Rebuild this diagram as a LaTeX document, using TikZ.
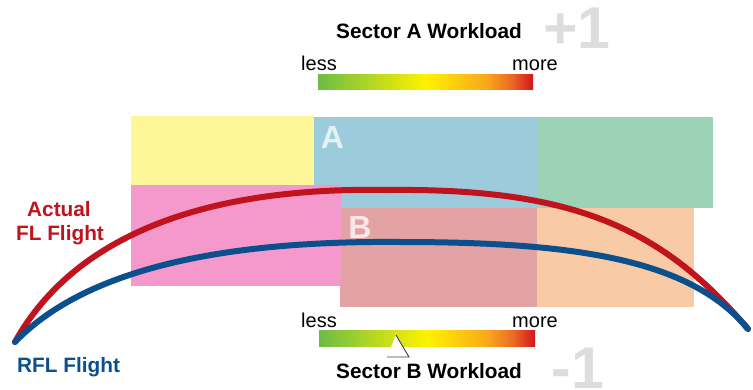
\documentclass[tikz,border=0pt]{standalone}
\usepackage{fontspec}
\setmainfont{Liberation Sans}
\definecolor{cyel}{HTML}{FEF79A}
\definecolor{cblu}{HTML}{9CCBDC}
\definecolor{cgrn}{HTML}{9CD3B6}
\definecolor{cpnk}{HTML}{F598CC}
\definecolor{crose}{HTML}{E3A2A4}
\definecolor{cpch}{HTML}{F8CAA5}
\definecolor{fred}{HTML}{C0131D}
\definecolor{fblu}{HTML}{0B4F8C}
\definecolor{wg}{HTML}{6BBD46}
\definecolor{wy}{HTML}{FFF200}
\definecolor{wo}{HTML}{F9A81B}
\definecolor{wor}{HTML}{EA6A24}
\definecolor{wr}{HTML}{D2151F}
\definecolor{bigg}{HTML}{DCDDDE}
\pgfdeclarehorizontalshading{workload}{100bp}{color(0bp)=(wg); color(25bp)=(wg); color(50bp)=(wy); color(64bp)=(wo); color(70bp)=(wor); color(75bp)=(wr); color(100bp)=(wr)}
\tikzset{
  sector/.style={draw=none, inner sep=0pt},
  flight/.style={line width=6pt, line cap=round},
  lbl/.style={inner sep=0pt, font=\fontsize{20}{24}\selectfont},
  head/.style={inner sep=0pt, font=\fontsize{20.8}{24}\selectfont\bfseries},
  bigsign/.style={inner sep=0pt, text=bigg, font=\fontsize{59}{60}\selectfont\bfseries},
  secletter/.style={inner sep=0pt, text=white, text opacity=0.75, font=\fontsize{32}{34}\selectfont\bfseries},
  wbar/.style={shading=workload, draw=none}
}
\begin{document}
\begin{tikzpicture}[x=1pt,y=-1pt]
\useasboundingbox (0,0) rectangle (753,389);
% sectors
\fill[cyel]  (131,116) rectangle (314,185);
\fill[cblu]  (314,117) rectangle (537,208);
\fill[cgrn]  (537,117) rectangle (713,208);
\fill[crose] (340,208) rectangle (537,307);
\fill[cpch]  (537,208) rectangle (694,307);
\fill[cpnk]  (131,185) rectangle (341,286);
\node[secletter, anchor=base] (la) at (332.5,148) {A};
\node[secletter, anchor=base] (lb) at (360,238) {B};
% flights
\coordinate (s) at (15,342);
\coordinate (e) at (748,329);
\coordinate (rtop) at (390,190);
\coordinate (btop) at (400,242);
\draw[flight, fred] (s) .. controls (55,270) and (150,185) .. (rtop)
   .. controls (580,188) and (665,232) .. (e);
\draw[flight, fblu] (s) .. controls (70,285) and (180,240) .. (btop)
   .. controls (570,242) and (690,258) .. (e);
% workload A
\node[bigsign, anchor=base] (plus) at (577,48) {+1};
\node[head, anchor=base] (ta) at (429,38) {Sector A Workload};
\node[lbl, anchor=base west] (lessa) at (301,70) {less};
\node[lbl, anchor=base east] (morea) at (558,70) {more};
\path[wbar] (318,74) rectangle (533,89);
% workload B
\node[bigsign, anchor=base] (minus) at (578,388) {-1};
\node[lbl, anchor=base west] (lessb) at (301,327) {less};
\node[lbl, anchor=base east] (moreb) at (558,327) {more};
\path[wbar] (319,330) rectangle (535,346);
\coordinate (tl) at (387,357);
\coordinate (tt) at (396,335);
\coordinate (tr) at (409,357);
\fill[white] (tl) -- (tt) -- (tr) -- cycle;
\draw[line width=0.9pt, black!75, line join=miter] (tt) -- (tr) -- (tl);
\node[head, anchor=base] (tb) at (429,378) {Sector B Workload};
% flight labels
\node[head, text=fred, anchor=base] (act) at (59,216) {Actual};
\node[head, text=fred, anchor=base] (afl) at (60,240) {FL Flight};
\node[head, text=fblu, anchor=base west] (rfl) at (17,372) {RFL Flight};
\end{tikzpicture}
\end{document}
